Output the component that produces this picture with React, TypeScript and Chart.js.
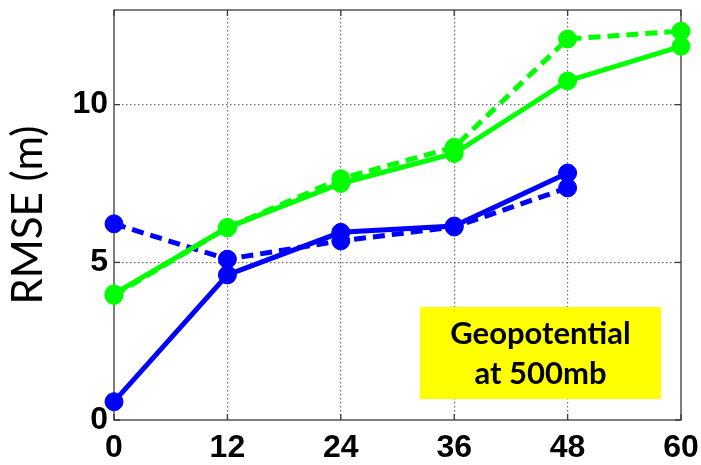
import React, { useEffect, useRef } from "react";
import { Chart, registerables } from "chart.js";

Chart.register(...registerables);

// Forecast lead time (hours) and RMSE values (m) for each run
const leadHours = [0, 12, 24, 36, 48, 60];
const greenSolid = [4.0, 6.1, 7.5, 8.45, 10.75, 11.85];
const greenDashed = [3.95, 6.1, 7.65, 8.65, 12.08, 12.33];
const blueSolid = [0.58, 4.6, 5.95, 6.15, 7.83];
const blueDashed = [6.22, 5.1, 5.68, 6.12, 7.36];

const xTickValues = [0, 12, 24, 36, 48, 60];
const yTickValues = [0, 5, 10];
const yAxisTitle = "RMSE (m)";
const noteLines = ["Geopotential", "at 500mb"];

const X_MIN = 0;
const X_MAX = 60;
const Y_MIN = 0;
const Y_MAX = 13;

const GREEN = "#00ff00";
const BLUE = "#0000ff";
const FRAME = "#3a3a3a";

const toPoints = (values: number[]) =>
  values.map((y, i) => ({ x: leadHours[i], y }));

// Box frame with MATLAB-style inward tick marks on all four sides
const framePlugin = {
  id: "frameBox",
  beforeDatasetsDraw(chart: any) {
    const { ctx, chartArea: a, scales } = chart;
    const tick = 6;
    ctx.save();
    ctx.strokeStyle = FRAME;
    ctx.lineWidth = 1.3;
    ctx.strokeRect(a.left, a.top, a.right - a.left, a.bottom - a.top);
    ctx.beginPath();
    xTickValues.forEach((v) => {
      const px = scales.x.getPixelForValue(v);
      ctx.moveTo(px, a.bottom);
      ctx.lineTo(px, a.bottom - tick);
      ctx.moveTo(px, a.top);
      ctx.lineTo(px, a.top + tick);
    });
    yTickValues.forEach((v) => {
      const py = scales.y.getPixelForValue(v);
      ctx.moveTo(a.left, py);
      ctx.lineTo(a.left + tick, py);
      ctx.moveTo(a.right, py);
      ctx.lineTo(a.right - tick, py);
    });
    ctx.stroke();
    ctx.restore();
  },
};

// Yellow note box in the lower right of the plot
const notePlugin = {
  id: "noteBox",
  afterDraw(chart: any) {
    const { ctx, chartArea: a } = chart;
    const boxLeft = a.left + 306;
    const boxRight = a.right - 20;
    const boxTop = a.bottom - 113;
    const boxBottom = a.bottom - 21;
    ctx.save();
    ctx.fillStyle = "#ffff00";
    ctx.fillRect(boxLeft, boxTop, boxRight - boxLeft, boxBottom - boxTop);
    ctx.fillStyle = "#000000";
    ctx.font = "bold 31px Lato";
    ctx.textAlign = "center";
    ctx.textBaseline = "middle";
    const cx = (boxLeft + boxRight) / 2;
    const cy = (boxTop + boxBottom) / 2;
    ctx.fillText(noteLines[0], cx, cy - 19);
    ctx.fillText(noteLines[1], cx, cy + 21);
    ctx.restore();
  },
};

const gridColor = (edgeValues: number[]) => (ctx: any) =>
  ctx.tick && edgeValues.includes(ctx.tick.value)
    ? "rgba(0,0,0,0)"
    : "rgba(60,60,60,0.75)";

export default function App() {
  const canvasRef = useRef<HTMLCanvasElement | null>(null);

  useEffect(() => {
    const canvas = canvasRef.current;
    if (!canvas) return;

    const lineSet = (label: string, values: number[], color: string, dashed: boolean) => ({
      label,
      data: toPoints(values),
      borderColor: color,
      backgroundColor: color,
      borderWidth: 5,
      borderDash: dashed ? [12, 7] : [],
      pointRadius: 9,
      pointBorderWidth: 1,
      pointBackgroundColor: color,
      pointBorderColor: color,
      tension: 0,
      clip: false as const,
    });

    const chart = new Chart(canvas, {
      type: "line",
      data: {
        datasets: [
          lineSet("green dashed", greenDashed, GREEN, true),
          lineSet("green solid", greenSolid, GREEN, false),
          lineSet("blue dashed", blueDashed, BLUE, true),
          lineSet("blue solid", blueSolid, BLUE, false),
        ],
      },
      options: {
        responsive: false,
        animation: false,
        devicePixelRatio: 1,
        layout: { padding: { top: 10, right: 20, bottom: 0, left: 0 } },
        plugins: {
          legend: { display: false },
          tooltip: { enabled: false },
        },
        scales: {
          x: {
            type: "linear",
            min: X_MIN,
            max: X_MAX,
            afterBuildTicks: (scale: any) => {
              scale.ticks = xTickValues.map((value) => ({ value }));
            },
            afterFit: (scale: any) => {
              scale.height = 45;
              scale.paddingLeft = 0;
              scale.paddingRight = 0;
            },
            ticks: {
              color: "#000",
              padding: 9,
              maxRotation: 0,
              font: { family: "Liberation Sans", weight: "bold", size: 32 },
            },
            grid: {
              drawTicks: false,
              color: gridColor([X_MIN, X_MAX]),
              lineWidth: 1.2,
            },
            border: { display: false, dash: [1.5, 2.5] },
          },
          y: {
            type: "linear",
            min: Y_MIN,
            max: Y_MAX,
            afterBuildTicks: (scale: any) => {
              scale.ticks = yTickValues.map((value) => ({ value }));
            },
            afterFit: (scale: any) => {
              scale.width = 114;
              scale.paddingTop = 0;
              scale.paddingBottom = 0;
            },
            ticks: {
              color: "#000",
              padding: 6,
              font: { family: "Liberation Sans", weight: "bold", size: 32 },
            },
            grid: {
              drawTicks: false,
              color: gridColor([Y_MIN, Y_MAX]),
              lineWidth: 1.2,
            },
            border: { display: false, dash: [1.5, 2.5] },
            title: {
              display: true,
              text: yAxisTitle,
              color: "#000",
              font: { family: "Lato", size: 42 },
              padding: { top: 3, bottom: 0 },
            },
          },
        },
      },
      plugins: [framePlugin, notePlugin],
    });

    return () => chart.destroy();
  }, []);

  return (
    <div style={{ position: "absolute", left: 0, top: 0, width: 701, height: 465, background: "#fff" }}>
      <canvas ref={canvasRef} width={701} height={465} style={{ display: "block" }} />
    </div>
  );
}
